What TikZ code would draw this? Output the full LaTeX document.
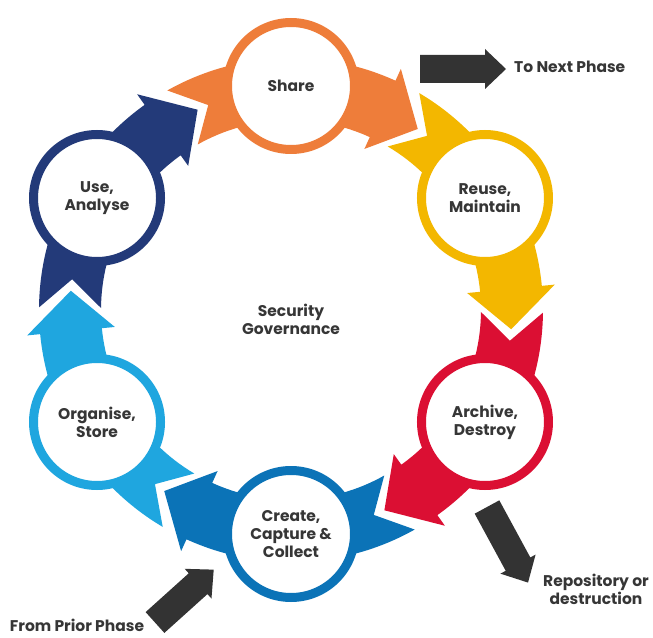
\documentclass[tikz,border=0pt]{standalone}
\usepackage{fontspec}
\setmainfont{Poppins}
\usepackage{tikz}
\definecolor{shareorange}{HTML}{EE7D3A}
\definecolor{reuseyellow}{HTML}{F3B700}
\definecolor{archivered}{HTML}{DB0F33}
\definecolor{createblue}{HTML}{0B73B7}
\definecolor{organiseblue}{HTML}{1FA6DF}
\definecolor{usenavy}{HTML}{233A79}
\definecolor{arrowgrey}{HTML}{333333}
\definecolor{labelgrey}{HTML}{363636}

\begin{document}
\begin{tikzpicture}[x=1pt, y=1pt,
	phase/.style={circle, draw=#1, line width=9pt, fill=white, minimum size=127pt, inner sep=0pt, align=center, text=labelgrey, font=\bfseries\fontsize{15.5}{18}\selectfont},
	note/.style={align=center, text=labelgrey, inner sep=1pt, font=\bfseries\fontsize{15.5}{18}\selectfont}]
	\useasboundingbox (-291,-327) rectangle (362,310);
	\foreach \ang/\col/\nm/\txt in {90/shareorange/share/{Share}, 30/reuseyellow/reuse/{Reuse,\\Maintain}, -30/archivered/archive/{Archive,\\Destroy}, -90/createblue/create/{Create,\\Capture \&\\Collect}, -150/organiseblue/organise/{Organise,\\Store}, 150/usenavy/use/{Use,\\Analyse}}{
		\fill[\col] (\ang+29.4:252) arc[start angle=\ang+29.4, end angle=\ang-24.5, radius=252] -- (\ang-24.5:265) -- (\ang-35:221) -- (\ang-24.5:177) -- (\ang-24.5:190) arc[start angle=\ang-24.5, end angle=\ang+29.4, radius=190] -- (\ang+22:221) -- cycle;
		\node[phase=\col] (\nm) at (\ang:224) {\txt};
	}
	\node[note] (gov) at (0,-9) {Security\\Governance};
	\coordinate (next) at (129,241);
	\coordinate (repo) at (196,-197);
	\coordinate (prior) at (-136,-312.5);
	\fill[arrowgrey, shift={(next)}] (0,-14) -- (65,-14) -- (65,-20) -- (86,0) -- (65,20) -- (65,14) -- (0,14) -- cycle;
	\fill[arrowgrey, shift={(repo)}, rotate=-61.5] (0,-14) -- (65,-14) -- (65,-20) -- (86,0) -- (65,20) -- (65,14) -- (0,14) -- cycle;
	\fill[arrowgrey, shift={(prior)}, rotate=42] (0,-14) -- (58,-14) -- (58,-20) -- (79,0) -- (58,20) -- (58,14) -- (0,14) -- cycle;
	\node[note, anchor=west] (nexttxt) at (222,243) {To Next Phase};
	\node[note] (repotxt) at (305,-279) {Repository or\\destruction};
	\node[note] (priortxt) at (-214,-315) {From Prior Phase};
\end{tikzpicture}
\end{document}
